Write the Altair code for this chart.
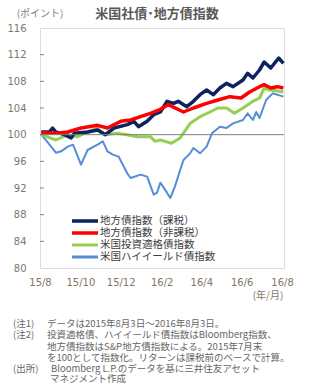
import altair as alt
import pandas as pd

series_names = ["地方債指数（課税）", "地方債指数（非課税）", "米国投資適格債指数", "米国ハイイールド債指数"]
series_colors = ["#0b2461", "#ff0000", "#92d050", "#558ed5"]
series_widths = [3.5, 3.5, 3.0, 2.0]

navy_dates = ["2015-08-03", "2015-08-15", "2015-08-20", "2015-08-25", "2015-09-07", "2015-09-17", "2015-09-22",
              "2015-10-12", "2015-10-27", "2015-11-08", "2015-11-21", "2015-12-11", "2015-12-21", "2015-12-28",
              "2016-01-10", "2016-01-20", "2016-01-30", "2016-02-09", "2016-02-19", "2016-02-26", "2016-03-10",
              "2016-03-20", "2016-03-30", "2016-04-09", "2016-04-19", "2016-04-29", "2016-05-09", "2016-05-19",
              "2016-06-03", "2016-06-10", "2016-06-18", "2016-06-28", "2016-07-05", "2016-07-15", "2016-07-27",
              "2016-08-03"]
navy_vals = [100.4, 100.4, 101.0, 100.4, 100.0, 99.5, 100.2,
             100.4, 100.7, 100.0, 101.0, 101.5, 102.0, 101.2,
             102.0, 103.0, 103.4, 105.0, 104.7, 105.0, 104.2,
             105.0, 106.0, 106.7, 106.0, 107.0, 107.7, 107.2,
             108.2, 109.2, 108.5, 109.7, 110.9, 110.0, 111.5,
             110.7]

red_dates = ["2015-08-03", "2015-08-25", "2015-09-12", "2015-10-02", "2015-10-27", "2015-11-11", "2015-12-01",
             "2015-12-16", "2015-12-31", "2016-01-15", "2016-01-30", "2016-02-11", "2016-03-05", "2016-03-20",
             "2016-04-09", "2016-04-26", "2016-05-14", "2016-05-31", "2016-06-13", "2016-06-28", "2016-07-05",
             "2016-07-15", "2016-07-25", "2016-08-03"]
red_vals = [100.3, 100.2, 100.4, 101.0, 101.4, 101.0, 102.0,
            102.2, 102.7, 103.2, 103.8, 104.5, 103.4, 104.0,
            104.7, 105.2, 105.7, 105.5, 106.4, 107.2, 107.5,
            107.0, 107.2, 107.0]

green_dates = ["2015-08-03", "2015-08-25", "2015-09-12", "2015-09-27", "2015-10-12", "2015-10-27", "2015-11-06",
               "2015-11-26", "2015-12-11", "2015-12-26", "2016-01-15", "2016-01-22", "2016-01-30", "2016-02-16",
               "2016-02-29", "2016-03-15", "2016-03-30", "2016-04-14", "2016-04-26", "2016-05-09", "2016-05-21",
               "2016-06-03", "2016-06-18", "2016-06-28", "2016-07-05", "2016-07-13", "2016-07-23", "2016-08-03"]
green_vals = [100.0, 99.2, 100.0, 99.7, 100.4, 101.0, 100.0,
              100.2, 100.0, 99.7, 99.7, 99.0, 99.2, 98.7,
              99.5, 101.7, 102.7, 103.4, 104.0, 104.0, 103.2,
              104.0, 105.0, 105.5, 107.0, 106.7, 106.6, 106.4]

blue_dates = ["2015-08-03", "2015-08-13", "2015-08-25", "2015-09-02", "2015-09-12", "2015-09-20", "2015-10-02",
              "2015-10-12", "2015-10-27", "2015-11-04", "2015-11-11", "2015-11-19", "2015-11-28", "2015-12-11",
              "2015-12-16", "2015-12-31", "2016-01-10", "2016-01-20", "2016-01-25", "2016-01-30", "2016-02-09",
              "2016-02-14", "2016-02-21", "2016-02-29", "2016-03-05", "2016-03-15", "2016-03-20", "2016-03-30",
              "2016-04-09", "2016-04-17", "2016-04-29", "2016-05-09", "2016-05-19", "2016-06-03", "2016-06-10",
              "2016-06-18", "2016-06-23", "2016-06-28", "2016-07-08", "2016-07-18", "2016-07-25", "2016-08-03"]
blue_vals = [100.0, 98.8, 97.3, 97.5, 98.2, 98.5, 95.5,
             97.7, 98.5, 99.0, 97.5, 97.0, 96.7, 94.2,
             93.5, 94.0, 93.7, 91.0, 91.3, 92.8, 91.3,
             90.5, 92.2, 94.7, 96.2, 97.2, 98.0, 97.2,
             98.2, 100.2, 101.2, 101.0, 101.7, 102.2, 103.2,
             102.2, 103.4, 102.5, 105.2, 106.2, 106.0, 105.7]

y_ticks = [80, 84, 88, 92, 96, 100, 104, 108, 112, 116]
x_ticks = ["2015-08-01", "2015-10-01", "2015-12-01", "2016-02-01", "2016-04-01", "2016-06-01", "2016-08-01"]

title_text = "米国社債･地方債指数"
unit_y = "(ポイント)"
unit_x = "(年/月)"
note_labels = ["(注1)", "(注2)", "(出所)"]
note_lines = [
    "データは2015年8月3日～2016年8月3日。",
    "投資適格債、ハイイールド債指数はBloomberg指数、",
    "地方債指数はS&P地方債指数による。2015年7月末",
    "を100として指数化。リターンは課税前のベースで計算。",
    "Bloomberg L.P.のデータを基に三井住友アセット",
    "マネジメント作成",
]

FONT = "Noto Sans CJK JP"
GREY = "#666666"
AXC = "#857565"

frames = []
for name, d, v in [(series_names[3], blue_dates, blue_vals),
                   (series_names[2], green_dates, green_vals),
                   (series_names[0], navy_dates, navy_vals),
                   (series_names[1], red_dates, red_vals)]:
    frames.append(pd.DataFrame({"date": pd.to_datetime(d), "value": v, "series": name}))
df = pd.concat(frames, ignore_index=True)
order_map = {series_names[3]: 0, series_names[2]: 1, series_names[0]: 2, series_names[1]: 3}
df["ord"] = df["series"].map(order_map)
width_map = dict(zip(series_names, series_widths))
df["sw"] = df["series"].map(width_map)

W, H = 244, 240
ox, oy = 40, 28

xscale = alt.Scale(domain=[pd.Timestamp("2015-08-01").isoformat(), pd.Timestamp("2016-08-04").isoformat()])
yscale = alt.Scale(domain=[80, 116], nice=False, zero=False)
cscale = alt.Scale(domain=series_names, range=series_colors)

yaxis = alt.Axis(values=y_ticks, title=None, grid=False, ticks=False, domain=False,
                 labelPadding=14, labelFontSize=10, labelColor=AXC, labelFont="DejaVu Sans",
                 labelOverlap=False, labelBound=False)
xaxis = alt.Axis(values=[pd.Timestamp(t).isoformat() for t in x_ticks], format="%y/%-m",
                 title=None, grid=False, ticks=False, domain=False, labelPadding=9,
                 labelFontSize=10, labelColor=AXC, labelFont="DejaVu Sans", labelFlush=False,
                 labelOverlap=False)

lines = alt.Chart(df).mark_line(interpolate="linear", strokeJoin="round").encode(
    x=alt.X("date:T", scale=xscale, axis=xaxis),
    y=alt.Y("value:Q", scale=yscale, axis=yaxis),
    color=alt.Color("series:N", scale=cscale, legend=None),
    strokeWidth=alt.StrokeWidth("sw:Q", scale=None, legend=None),
    detail="series:N",
    order="ord:Q",
)

base_rule = alt.Chart(pd.DataFrame({"v": [100]})).mark_rule(color="#808080", strokeWidth=1).encode(
    y=alt.Y("v:Q", scale=yscale, axis=yaxis))

tick_df = pd.DataFrame({"v": y_ticks[1:-1]})
ticks = alt.Chart(tick_df).mark_rule(color="#808080", strokeWidth=1).encode(
    y=alt.Y("v:Q", scale=yscale, axis=yaxis), x=alt.value(0), x2=alt.value(4))


def txt(s, x, y, size=9.5, color=GREY, bold=False, align="left"):
    return alt.Chart(pd.DataFrame({"t": [s]})).mark_text(
        align=align, baseline="middle", fontSize=size, font=FONT, color=color,
        fontWeight="bold" if bold else "normal").encode(
        text="t:N", x=alt.value(x), y=alt.value(y))


# manual legend
legend_layers = []
legend_y = [221, 233, 245, 257]
for name, col, sw, ly in zip(series_names, series_colors, series_widths, legend_y):
    legend_layers.append(
        alt.Chart(pd.DataFrame({"s": [name]})).mark_rule(strokeWidth=max(sw, 3.0), color=col).encode(
            x=alt.value(72 - ox), x2=alt.value(98 - ox), y=alt.value(ly - oy)))
    legend_layers.append(txt(name, 100 - ox, ly - oy, size=10.5, color="#404040"))

annots = [
    txt(title_text, 157 - ox, 14 - oy, size=13, color="#595959", bold=True, align="center"),
    txt(unit_y, 40 - ox, 14 - oy, size=10, color="#7f7f7f", align="center"),
    txt(unit_x, 268 - ox, 296 - oy, size=10, color=AXC, align="center"),
]
label_rows = [(note_labels[0], 324), (note_labels[1], 335), (note_labels[2], 368.5)]
for s, y in label_rows:
    annots.append(txt(s, 13 - ox, y - oy))
body_pos = [(47, 324), (47, 335), (47, 346.5), (47, 357.5), (51, 368.5), (50, 379)]
for s, (x, y) in zip(note_lines, body_pos):
    annots.append(txt(s, x - ox, y - oy))

chart = alt.layer(lines, base_rule, ticks, *legend_layers, *annots).properties(
    width=W, height=H,
    padding={"left": ox, "top": oy, "right": 321 - ox - W, "bottom": 391 - oy - H},
    autosize=alt.AutoSizeParams(type="none"),
).configure_view(stroke="#7f7f7f", strokeWidth=1).configure(background="white")

chart.save("out.html", embed_options={"renderer": "svg", "actions": False})
